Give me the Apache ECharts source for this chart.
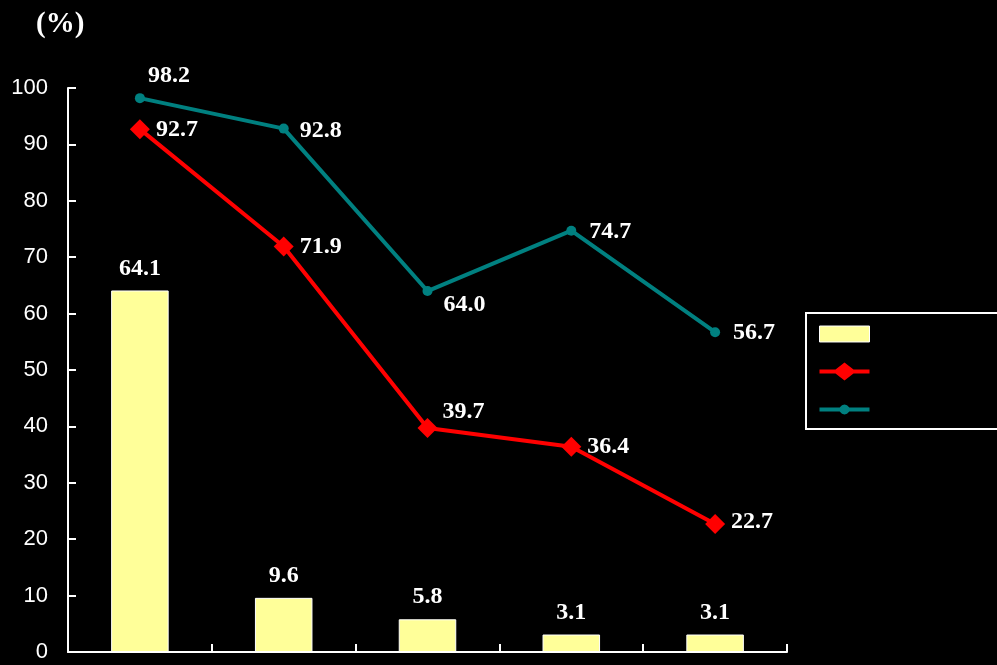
<!DOCTYPE html>
<html>
<head>
<meta charset="utf-8">
<script src="https://cdn.jsdelivr.net/npm/echarts@6/dist/echarts.min.js"></script>
<style>html,body{margin:0;padding:0;background:#000;}#chart{width:997px;height:665px;}</style>
</head>
<body>
<div id="chart"></div>
<script>
var categories = ['1', '2', '3', '4', '5'];
var barValues = [64.1, 9.6, 5.8, 3.1, 3.1];
var redValues = [92.7, 71.9, 39.7, 36.4, 22.7];
var tealValues = [98.2, 92.8, 64.0, 74.7, 56.7];
var yTicks = [0, 10, 20, 30, 40, 50, 60, 70, 80, 90, 100];

var labelFont = {color: '#fff', fontFamily: '"Liberation Serif","Times New Roman",serif', fontWeight: 'bold', fontSize: 24,
  formatter: function (p) { return Number(p.value).toFixed(1); }};

var redLabelCfg = [
  {position: 'right', distance: 6, offset: [0, 1]},
  {position: 'right', distance: 6, offset: [0, 0]},
  {position: 'right', distance: 5, offset: [0, -16]},
  {position: 'right', distance: 6, offset: [0, 0]},
  {position: 'right', distance: 6, offset: [0, -2]}
];
var tealLabelCfg = [
  {position: 'top', distance: 6, offset: [29, 1]},
  {position: 'right', distance: 11, offset: [0, 2]},
  {position: 'right', distance: 11, offset: [0, 14]},
  {position: 'right', distance: 13, offset: [0, 1]},
  {position: 'right', distance: 13, offset: [0, 1]}
];

function withLabels(vals, cfg) {
  return vals.map(function (v, i) {
    return {value: v, label: Object.assign({show: true}, labelFont, cfg[i])};
  });
}

var redIcon = 'path://M0,7 L16,7 L25,0 L34,7 L50,7 L50,11 L34,11 L25,18 L16,11 L0,11 Z';
var tealIcon = 'path://M0,7 L20.2,7 L20.67,6.5 L22.5,4.67 L25,4 L27.5,4.67 L29.33,6.5 L29.8,7 L50,7 L50,11 L29.8,11 L29.33,11.5 L27.5,13.33 L25,14 L22.5,13.33 L20.67,11.5 L20.2,11 L0,11 Z';

var chart = echarts.init(document.getElementById('chart'));
chart.setOption({
  backgroundColor: '#000',
  animation: false,
  title: {
    text: '(%)', left: 31, top: 5,
    textStyle: {color: '#fff', fontFamily: '"Liberation Serif","Times New Roman",serif', fontWeight: 'bold', fontSize: 29}
  },
  grid: {left: 68, right: 210, top: 88, bottom: 13, containLabel: false},
  graphic: [{
    type: 'rect', left: 805, top: 312, z: 0,
    shape: {width: 200, height: 116},
    style: {fill: 'transparent', stroke: '#fff', lineWidth: 2}
  }],
  legend: {
    orient: 'vertical', left: 814, top: 320,
    itemWidth: 50, itemHeight: 18, itemGap: 20,
    symbolKeepAspect: true,
    formatter: function () { return ''; },
    textStyle: {color: '#fff'},
    data: [
      {name: 'bar', icon: 'path://M0,0 L47,0 L47,15 L0,15 Z', itemStyle: {color: '#FFFF99', borderColor: '#fff', borderWidth: 1}},
      {name: 'red', icon: redIcon, itemStyle: {color: '#FF0000', borderWidth: 0}},
      {name: 'teal', icon: tealIcon, itemStyle: {color: '#008080', borderWidth: 0}}
    ]
  },
  xAxis: {
    type: 'category', data: categories, boundaryGap: true,
    axisLine: {lineStyle: {color: '#fff', width: 2}},
    axisTick: {show: true, inside: true, length: 8, lineStyle: {color: '#fff', width: 2}},
    axisLabel: {show: false}
  },
  yAxis: {
    type: 'value', min: yTicks[0], max: yTicks[yTicks.length - 1], interval: 10,
    splitLine: {show: false},
    axisLine: {show: true, lineStyle: {color: '#fff', width: 2}},
    axisTick: {show: true, inside: true, length: 8, lineStyle: {color: '#fff', width: 2}},
    axisLabel: {color: '#fff', fontFamily: '"Liberation Sans",Arial,sans-serif', fontSize: 22, margin: 20}
  },
  series: [
    {
      name: 'bar', type: 'bar', data: barValues, barWidth: '40%',
      itemStyle: {color: '#FFFF99', borderColor: '#fff', borderWidth: 1},
      label: Object.assign({show: true, position: 'top', distance: 10}, labelFont)
    },
    {
      name: 'red', type: 'line', data: withLabels(redValues, redLabelCfg),
      symbol: 'diamond', symbolSize: 20,
      lineStyle: {color: '#FF0000', width: 4},
      itemStyle: {color: '#FF0000'}
    },
    {
      name: 'teal', type: 'line', data: withLabels(tealValues, tealLabelCfg),
      symbol: 'circle', symbolSize: 10,
      lineStyle: {color: '#008080', width: 4},
      itemStyle: {color: '#008080'}
    }
  ]
});
</script>
</body>
</html>
